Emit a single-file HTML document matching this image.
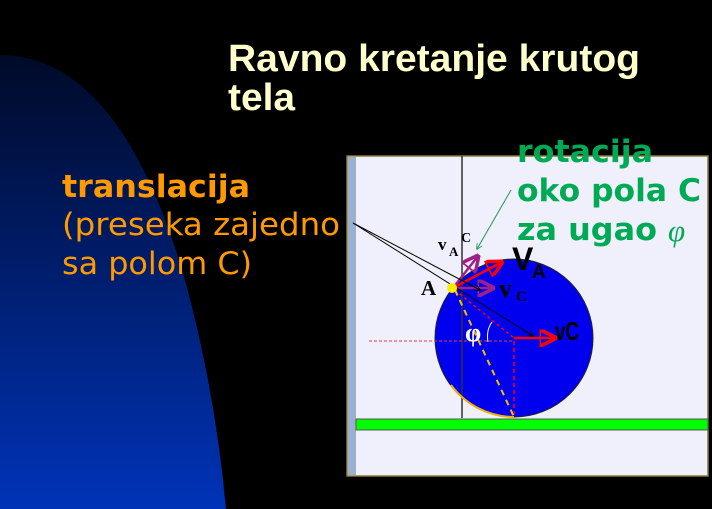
<!DOCTYPE html>
<html><head><meta charset="utf-8"><style>
html,body{margin:0;padding:0;background:#000;width:712px;height:509px;overflow:hidden}
svg{display:block}
</style></head><body>
<svg width="712" height="509" viewBox="0 0 712 509">
<defs>
<linearGradient id="bg" x1="0" y1="0" x2="0" y2="1">
<stop offset="0" stop-color="#000a28"/><stop offset="1" stop-color="#0033b8"/>
</linearGradient>
<marker id="ar" viewBox="0 0 10 10" refX="9" refY="5" markerWidth="7" markerHeight="7" orient="auto"><path d="M0,0L10,5L0,10Z" fill="none" stroke="#f00" stroke-width="2"/></marker>
<marker id="ap" viewBox="0 0 10 10" refX="9" refY="5" markerWidth="7" markerHeight="7" orient="auto"><path d="M0,0L10,5L0,10Z" fill="none" stroke="#a0208a" stroke-width="2"/></marker>
<marker id="ak" viewBox="0 0 10 10" refX="9" refY="5" markerWidth="6" markerHeight="6" orient="auto"><path d="M0,0L10,5L0,10" fill="none" stroke="#000" stroke-width="1.5"/></marker>
<marker id="ag" viewBox="0 0 10 10" refX="9" refY="5" markerWidth="6" markerHeight="6" orient="auto"><path d="M0,0L10,5L0,10" fill="none" stroke="#1a9a50" stroke-width="1.5"/></marker>
</defs>
<rect width="712" height="509" fill="#000"/>
<path d="M0,55 Q120,55 185,280 Q215,390 226,509 L0,509 Z" fill="url(#bg)"/>
<g font-family="Liberation Sans, sans-serif" font-weight="bold" font-size="38" fill="#ffffcc">
<text x="228" y="71" textLength="412" lengthAdjust="spacingAndGlyphs">Ravno kretanje krutog</text>
<text x="228" y="110" textLength="67" lengthAdjust="spacingAndGlyphs">tela</text>
</g>
<g font-family="DejaVu Sans, sans-serif" font-size="31" fill="#ff9900">
<text x="62" y="197" font-weight="bold" textLength="188" lengthAdjust="spacingAndGlyphs">translacija</text>
<text x="62" y="235" textLength="278" lengthAdjust="spacingAndGlyphs">(preseka zajedno</text>
<text x="62" y="274" textLength="190" lengthAdjust="spacingAndGlyphs">sa polom C)</text>
</g>
<g>
<rect x="347" y="156" width="361" height="320" fill="#f0f0fc" stroke="#8a7a30" stroke-width="1.5"/>
<rect x="348" y="157" width="8" height="318" fill="#9ab0d0"/>
<rect x="356" y="419" width="352" height="11" fill="#00ff00" stroke="#555" stroke-width="1"/>
<circle cx="514" cy="338" r="79" fill="#0000ee" stroke="#222" stroke-width="1"/>
<line x1="462" y1="156" x2="462" y2="418" stroke="#333" stroke-width="1.5"/>
<path d="M451,385 A79,79 0 0 0 514,417" fill="none" stroke="#f0b000" stroke-width="2"/>
<line x1="369" y1="341" x2="514" y2="341" stroke="#e04040" stroke-width="1" stroke-dasharray="3,2"/>
<line x1="514" y1="341" x2="514" y2="417" stroke="#f00" stroke-width="1.5" stroke-dasharray="4,3"/>
<line x1="455" y1="290" x2="514" y2="338" stroke="#f00" stroke-width="1.5" stroke-dasharray="3,3"/>
<line x1="455" y1="290" x2="514" y2="417" stroke="#f0c000" stroke-width="2" stroke-dasharray="6,5"/>
<line x1="514" y1="338" x2="555" y2="338" stroke="#f00" stroke-width="2.5" marker-end="url(#ar)"/>
<line x1="453" y1="288" x2="502" y2="262" stroke="#f00" stroke-width="2.5" marker-end="url(#ar)"/>
<line x1="453" y1="288" x2="493" y2="288" stroke="#a0208a" stroke-width="2.5" marker-end="url(#ap)"/>
<line x1="453" y1="288" x2="478" y2="256" stroke="#a0208a" stroke-width="2.5" marker-end="url(#ap)"/>
<line x1="353" y1="223" x2="533" y2="336" stroke="#000" stroke-width="1" marker-end="url(#ak)"/>
<line x1="353" y1="223" x2="480" y2="290" stroke="#000" stroke-width="1" marker-end="url(#ak)"/>
<line x1="511" y1="190" x2="477" y2="249" stroke="#1a9a50" stroke-width="1" marker-end="url(#ag)"/>
<circle cx="452" cy="288" r="5" fill="#ffee00"/>
<path d="M492,322 Q486,330 488,342" fill="none" stroke="#fff" stroke-width="1"/>
<g font-family="Liberation Serif, serif" font-weight="bold">
<text x="421" y="295" font-size="21" fill="#000">A</text>
<text x="438" y="250" font-size="17" fill="#000">v</text><text x="449" y="256" font-size="13" fill="#000">A</text><text x="461" y="242" font-size="14" fill="#000">C</text>
<text x="499" y="297" font-size="26" fill="#000">v</text><text x="516" y="301" font-size="15" fill="#000">C</text>
<text x="465" y="341" font-size="26" fill="#fff">φ</text>
</g>
<g font-family="Liberation Sans, sans-serif" font-weight="bold" fill="#000">
<text x="512" y="270" font-size="32">V</text><text x="532" y="278" font-size="19">A</text>
<text x="555" y="340" font-size="26" textLength="24" lengthAdjust="spacingAndGlyphs">vC</text>
</g>
</g>
<g font-family="DejaVu Sans, sans-serif" font-weight="bold" font-size="31" fill="#00aa55">
<text x="517" y="162" textLength="136" lengthAdjust="spacingAndGlyphs">rotacija</text>
<text x="517" y="201" textLength="184" lengthAdjust="spacingAndGlyphs">oko pola C</text>
<text x="517" y="240" textLength="140" lengthAdjust="spacingAndGlyphs">za ugao</text>
<text x="668" y="241" font-family="Liberation Serif, serif" font-style="italic" font-weight="normal">φ</text>
</g>
</svg>
</body></html>
